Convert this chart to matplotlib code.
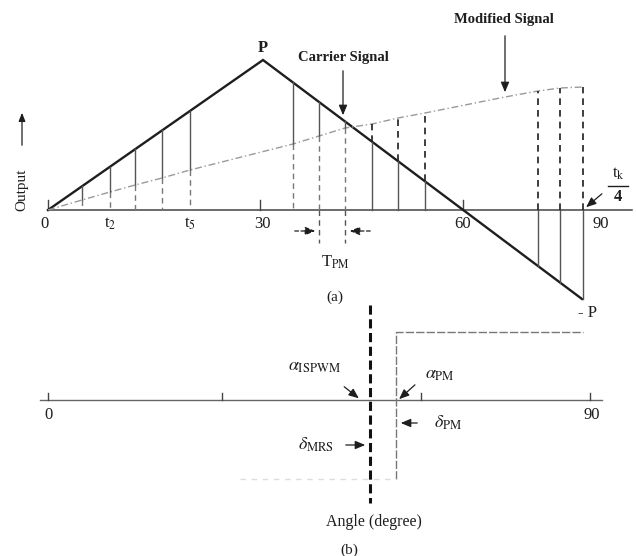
import numpy as np
import matplotlib
matplotlib.use("Agg")
import matplotlib.pyplot as plt

plt.rcParams["font.family"] = ["Liberation Serif", "DejaVu Serif"]
plt.rcParams["mathtext.fontset"] = "stix"

# ---- (a) carrier and modified reference signal (horizontal units along the angle axis) ----
carrier_x = [0, 215, 534]
carrier_y = [0, 150, -89]

modified_x = [0, 34, 62, 87, 114, 142, 245, 271, 297, 324, 350, 377, 457, 490, 512, 535]
modified_y = [0, 10, 18, 25, 32, 40, 66, 74, 82, 86, 92, 97, 113, 119, 122, 123]

# sampling instants where carrier and reference are compared
sample_x = [34, 62, 87, 114, 142, 245, 271, 297, 324, 350, 377, 490, 512, 535]
tpm_edges = [271, 297]

axis_a_ticks = [0, 212, 415]
axis_a_labels = ["0", r"t$_2$", r"t$_5$", "30", "60", "90"]
axis_a_label_x = [-4, 62, 142, 214, 415, 553]

# ---- (b) switching angles ----
axis_b_ticks = [0, 174, 373, 542]
axis_b_labels = ["0", "90"]
axis_b_label_x = [0, 544]
delta_mrs_x = 322
delta_pm_x = 348
pulse_high = 68
pulse_low = -79
pulse_end_x = 535
pulse_low_start = 192

fig = plt.figure(figsize=(6.36, 5.56), dpi=100)
ax_a = fig.add_axes([0, 0, 1, 1])
ax_b = fig.add_axes([0, 0, 1, 1])
for ax in (ax_a, ax_b):
    ax.set_xlim(-48, 588)
    ax.axis("off")
    ax.patch.set_alpha(0)
ax_a.set_ylim(-346, 210)
ax_b.set_ylim(-156, 400)

ink = "#1e1e1e"
grey = "#555555"
light = "#9a9a9a"

# ---------------- panel (a) ----------------
ax_a.plot([0, 584], [0, 0], color="#444444", lw=1.1)
for t in axis_a_ticks:
    ax_a.plot([t, t], [0, 10], color="#444444", lw=1.0)

ax_a.plot(carrier_x, carrier_y, color=ink, lw=1.7, solid_joinstyle="miter")
ax_a.plot(modified_x, modified_y, color=light, lw=1.0, ls=(0, (5, 2, 1, 2)))

car_at = np.interp(sample_x, carrier_x, carrier_y)
mod_at = np.interp(sample_x, modified_x, modified_y)
for x, c, m in zip(sample_x, car_at, mod_at):
    if c > m:
        ax_a.plot([x, x], [c, m], color=grey, lw=1.0)
        ax_a.plot([x, x], [m, 0], color="#777777", lw=1.0, ls=(0, (4, 3)))
    else:
        ax_a.plot([x, x], [c, 0], color=grey, lw=1.0)
        ax_a.plot([x, x], [max(c, 0), m], color=ink, lw=1.2, ls=(0, (4, 3)))

for x in tpm_edges:
    ax_a.plot([x, x], [0, -33], color=grey, lw=1.0, ls=(0, (4, 3)))

arrow_kw = dict(arrowstyle="-|>,head_length=0.6,head_width=0.25", color=ink, lw=0.9)
ax_a.annotate("", xy=(270, -21), xytext=(244, -21),
              arrowprops=dict(arrow_kw, linestyle=(0, (3, 2))))
ax_a.annotate("", xy=(299, -21), xytext=(325, -21),
              arrowprops=dict(arrow_kw, linestyle=(0, (3, 2))))

for x, lab in zip(axis_a_label_x, axis_a_labels):
    ax_a.text(x, -14, lab, ha="center", va="center", fontsize=12, color=ink)

ax_a.text(215, 162, "P", ha="center", va="center", fontsize=12, color=ink, weight="bold")
ax_a.text(539, -103, "- P", ha="center", va="center", fontsize=12, color=ink)

ax_a.text(295, 152, "Carrier Signal", ha="center", va="center", fontsize=10.5,
          color=ink, weight="bold")
ax_a.annotate("", xy=(295, 92), xytext=(295, 142), arrowprops=arrow_kw)
ax_a.text(456, 190, "Modified Signal", ha="center", va="center", fontsize=10.5,
          color=ink, weight="bold")
ax_a.annotate("", xy=(457, 115), xytext=(457, 177), arrowprops=arrow_kw)

ax_a.text(570, 36, r"t$_{\rm k}$", ha="center", va="center", fontsize=12, color=ink)
ax_a.plot([560, 580], [24, 24], color=ink, lw=1.0)
ax_a.text(570, 13, "4", ha="center", va="center", fontsize=12, color=ink, weight="bold")
ax_a.annotate("", xy=(536, 1), xytext=(556, 18), arrowprops=arrow_kw)

ax_a.text(-26, 20, "Output", ha="center", va="center", rotation=90, fontsize=11, color=ink)
ax_a.annotate("", xy=(-26, 100), xytext=(-26, 62),
              arrowprops=dict(arrowstyle="-|>,head_length=0.5,head_width=0.2", color=ink, lw=0.9))

ax_a.text(287, -52, r"T$_{\rm PM}$", ha="center", va="center", fontsize=12, color=ink)
ax_a.text(287, -87, "(a)", ha="center", va="center", fontsize=11, color=ink)

# ---------------- panel (b) ----------------
ax_b.plot([-8, 554], [0, 0], color="#666666", lw=1.0)
for t in axis_b_ticks:
    ax_b.plot([t, t], [0, 7], color="#444444", lw=1.0)
for x, lab in zip(axis_b_label_x, axis_b_labels):
    ax_b.text(x, -15, lab, ha="center", va="center", fontsize=12, color=ink)

ax_b.plot([delta_mrs_x, delta_mrs_x], [95, -103], color="#111111", lw=2.2, ls=(0, (3, 1.5)))
ax_b.plot([delta_pm_x, delta_pm_x, pulse_end_x], [pulse_low, pulse_high, pulse_high],
          color="#777777", lw=1.0, ls=(0, (6, 1.5)))
ax_b.plot([pulse_low_start, delta_pm_x], [pulse_low, pulse_low], color="#dddddd", lw=1.0, ls=(0, (4, 4)))

ax_b.text(266, 33, r"$\alpha_{\rm ISPWM}$", ha="center", va="center", fontsize=13, color=ink)
ax_b.annotate("", xy=(313, 0), xytext=(294, 15), arrowprops=arrow_kw)
ax_b.text(392, 25, r"$\alpha_{\rm PM}$", ha="center", va="center", fontsize=13, color=ink)
ax_b.annotate("", xy=(349, -1), xytext=(369, 17), arrowprops=arrow_kw)
ax_b.text(400, -23, r"$\delta_{\rm PM}$", ha="center", va="center", fontsize=13, color=ink)
ax_b.annotate("", xy=(350, -23), xytext=(372, -23), arrowprops=arrow_kw)
ax_b.text(268, -45, r"$\delta_{\rm MRS}$", ha="center", va="center", fontsize=13, color=ink)
ax_b.annotate("", xy=(320, -45), xytext=(295, -45), arrowprops=arrow_kw)

ax_b.text(326, -122, "Angle (degree)", ha="center", va="center", fontsize=11.5, color=ink)
ax_b.text(301, -150, "(b)", ha="center", va="center", fontsize=11, color=ink)

fig.savefig("out.png", dpi=100, facecolor="white")
